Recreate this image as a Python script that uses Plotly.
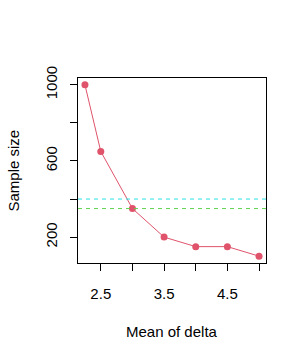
import plotly.graph_objects as go

delta = [2.25, 2.5, 3.0, 3.5, 4.0, 4.5, 5.0]
sample_size = [1000, 650, 350, 200, 150, 150, 100]
ref_cyan = 400
ref_green = 350
x_ticks = [2.5, 3.0, 3.5, 4.0, 4.5, 5.0]
x_labels = ["2.5", "", "3.5", "", "4.5", ""]
y_ticks = [200, 400, 600, 800, 1000]
y_labels = ["200", "", "600", "", "1000"]
x_title = "Mean of delta"
y_title = "Sample size"

font = dict(family="Liberation Sans, Arial, sans-serif", size=15, color="black")

fig = go.Figure()
fig.add_trace(go.Scatter(
    x=delta, y=sample_size, mode="lines+markers",
    line=dict(color="#DF536B", width=1),
    marker=dict(color="#DF536B", size=7),
    showlegend=False,
))
fig.add_hline(y=ref_cyan, layer="above",
              line=dict(color="#28E2E5", width=1, dash="4px,4px"))
fig.add_hline(y=ref_green, layer="above",
              line=dict(color="#61D04F", width=1, dash="4px,4px"))

fig.update_layout(
    width=307, height=361,
    margin=dict(l=78, r=41, t=78, b=98, autoexpand=False),
    paper_bgcolor="white", plot_bgcolor="white",
    font=font,
    annotations=[
        dict(text=x_title, xref="paper", yref="paper", x=0.5, y=0,
             xanchor="center", yanchor="middle", yshift=-68, showarrow=False,
             font=dict(size=15)),
        dict(text=y_title, xref="paper", yref="paper", x=0, y=0.5,
             xanchor="center", yanchor="middle", xshift=-65, textangle=-90,
             showarrow=False, font=dict(size=15)),
    ],
)
fig.update_xaxes(
    range=[2.14, 5.11], tickvals=x_ticks, ticktext=x_labels,
    ticks="outside", ticklen=7, tickwidth=1, tickcolor="black",
    ticklabelstandoff=10,
    showline=True, linecolor="black", linewidth=1, mirror=True,
    showgrid=False, zeroline=False, automargin=False,
    tickfont=dict(size=15),
)
fig.update_yaxes(
    range=[64, 1036], tickvals=y_ticks, ticktext=y_labels,
    ticks="outside", ticklen=7, tickwidth=1, tickcolor="black",
    tickangle=-90, automargin=False, ticklabelstandoff=7,
    showline=True, linecolor="black", linewidth=1, mirror=True,
    showgrid=False, zeroline=False,
    tickfont=dict(size=15),
)

fig.write_html("out.html", config={"displayModeBar": False},
               post_script="document.body.style.margin='0';")
